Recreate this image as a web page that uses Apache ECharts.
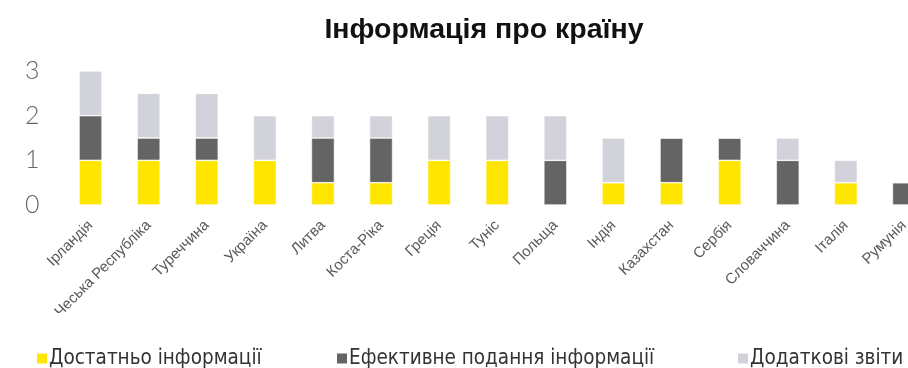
<!DOCTYPE html>
<html>
<head>
<meta charset="utf-8">
<script src="https://cdn.jsdelivr.net/npm/echarts@6/dist/echarts.min.js"></script>
<style>
  html, body { margin: 0; padding: 0; background: #fff; }
  #chart { width: 908px; height: 368px; }
</style>
</head>
<body>
<div id="chart"></div>
<script>
// країни
const countries = ["Ірландія", "Чеська Республіка", "Туреччина", "Україна", "Литва", "Коста-Ріка", "Греція",
  "Туніс", "Польща", "Індія", "Казахстан", "Сербія", "Словаччина", "Італія", "Румунія"];
const enoughInfo = [1, 1, 1, 1, 0.5, 0.5, 1, 1, 0, 0.5, 0.5, 1, 0, 0.5, 0];
const effectiveInfo = [1, 0.5, 0.5, 0, 1, 1, 0, 0, 1, 0, 1, 0.5, 1, 0, 0.5];
const extraReports = [1, 1, 1, 1, 0.5, 0.5, 1, 1, 1, 1, 0, 0, 0.5, 0.5, 0];
const seriesNames = ["Достатньо інформації", "Ефективне подання інформації", "Додаткові звіти"];
const colors = ["#FFE600", "#646464", "#D2D2DA"];

const chart = echarts.init(document.getElementById("chart"));

const mk = (name, data, color) => ({
  name: name,
  type: "bar",
  stack: "total",
  data: data,
  barWidth: 23,
  itemStyle: { color: color, borderColor: "#fff", borderWidth: 0.6 }
});

// one legend per item, so each sits where it does in the original
const legendAt = (name, x) => ({
  left: x,
  top: 348,
  padding: 0,
  itemWidth: 12,
  itemHeight: 12,
  icon: "rect",
  textStyle: { fontFamily: "DejaVu Sans Condensed", fontSize: 20.5, color: "#333", padding: [0, 0, 0, -4] },
  data: [name]
});

const option = {
  animation: false,
  title: {
    text: "Інформація про країну",
    left: 479,
    textAlign: "center",
    top: 11,
    textStyle: { fontFamily: "Liberation Sans", fontSize: 28.5, fontWeight: "bold", color: "#111" }
  },
  legend: [
    legendAt(seriesNames[0], 35),
    legendAt(seriesNames[1], 335),
    legendAt(seriesNames[2], 736)
  ],
  grid: { left: 61.5, width: 871.5, top: 71, bottom: 163, outerBoundsMode: "none" },
  xAxis: {
    type: "category",
    data: countries,
    axisLine: { show: false },
    axisTick: { show: false },
    axisLabel: {
      interval: 0,
      rotate: 45,
      margin: 18,
      fontFamily: "Liberation Sans",
      fontSize: 15,
      color: "#595959"
    }
  },
  yAxis: {
    type: "value",
    min: 0,
    max: 3,
    interval: 1,
    splitLine: { show: false },
    axisLine: { show: false },
    axisLabel: { fontFamily: "Lato", fontWeight: 300, fontSize: 25, color: "#666", margin: 22 }
  },
  series: [
    mk(seriesNames[0], enoughInfo, colors[0]),
    mk(seriesNames[1], effectiveInfo, colors[1]),
    mk(seriesNames[2], extraReports, colors[2])
  ]
};

chart.setOption(option);
</script>
</body>
</html>
